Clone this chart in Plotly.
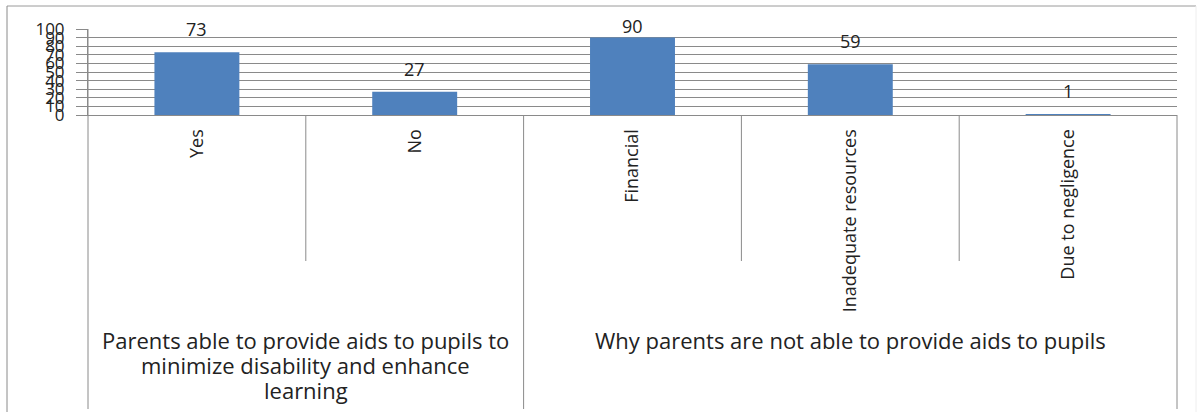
import plotly.graph_objects as go

# ---- data ----
categories = ["Yes", "No", "Financial", "Inadequate resources", "Due to negligence"]
values = [73, 27, 90, 59, 1]
group_labels = [
    "Parents able to provide aids to pupils to<br>minimize disability and enhance<br>learning",
    "Why parents are not able to provide aids to pupils",
]
group_sizes = [2, 3]
y_ticks = list(range(0, 101, 10))

# ---- style / layout constants ----
W, H = 1200, 412
ML, MR, MT, MB = 88, 23, 29, 297
PLOT_H = H - MT - MB
PX_PER_UNIT = PLOT_H / 100.0
FONT = "Open Sans"
GRID = "#8a8a8a"
LINE = "#8a8a8a"
TXT = "#222222"
BAR = "#4F81BD"


def py(px):
    """pixel row -> paper y"""
    return (H - MB - px) / PLOT_H


def px_x(px):
    return (px - ML) / (W - ML - MR)


fig = go.Figure()
fig.add_trace(go.Bar(
    x=categories, y=values, marker=dict(color=BAR, line=dict(width=0)),
    width=0.39, hoverinfo="x+y",
))

annotations = []
# data labels
for c, v in zip(categories, values):
    shift = min(23, (100 - v) * PX_PER_UNIT + 3)
    annotations.append(dict(
        x=c, y=v, xref="x", yref="y", text=str(v), showarrow=False,
        yshift=shift, font=dict(family=FONT, size=18, color=TXT),
    ))

shapes = []
# separators
n = len(categories)
boundaries = []
acc = 0
for s in group_sizes:
    acc += s
    boundaries.append(acc)
group_ends = set(boundaries)
for i in range(1, n):
    long_line = i in group_ends
    shapes.append(dict(
        type="line", xref="x", yref="paper", x0=i - 0.5, x1=i - 0.5,
        y0=0, y1=py(409) if long_line else py(261),
        line=dict(color=LINE, width=1),
    ))
for xd in (0, 1):
    shapes.append(dict(
        type="line", xref="x domain", yref="paper", x0=xd, x1=xd,
        y0=1 if xd == 0 else 0, y1=py(409), line=dict(color=LINE, width=1),
    ))
# outer chart border (top and left edges visible)
shapes.append(dict(
    type="line", xref="paper", yref="paper",
    x0=px_x(7), x1=px_x(1196), y0=py(6), y1=py(6),
    line=dict(color="#9a9a9a", width=1), layer="below",
))
shapes.append(dict(
    type="line", xref="paper", yref="paper",
    x0=px_x(7), x1=px_x(7), y0=py(6), y1=py(412),
    line=dict(color="#8a8a8a", width=1), layer="below",
))
shapes.append(dict(
    type="line", xref="paper", yref="paper",
    x0=px_x(1196), x1=px_x(1196), y0=py(6), y1=py(412),
    line=dict(color="#eeeeee", width=1), layer="below",
))

# group labels (one annotation per line for tight line spacing)
start = 0
for lbl, s in zip(group_labels, group_sizes):
    center = start + (s - 1) / 2.0
    for k, line in enumerate(lbl.split("<br>")):
        annotations.append(dict(
            x=center, y=py(340 + 25 * k), xref="x", yref="paper", text=line,
            showarrow=False, yanchor="middle", xanchor="center",
            font=dict(family=FONT, size=22, color=TXT),
        ))
    start += s

fig.update_layout(
    width=W, height=H,
    margin=dict(l=ML, r=MR, t=MT, b=MB, pad=0),
    paper_bgcolor="white", plot_bgcolor="white",
    showlegend=False,
    annotations=annotations, shapes=shapes,
    font=dict(family=FONT, color=TXT),
)
fig.update_xaxes(
    type="category", range=[-0.5, n - 0.5],
    showline=True, linecolor=LINE, linewidth=1,
    showgrid=False, ticks="", tickangle=-90, ticklabelstandoff=6,
    tickfont=dict(family=FONT, size=18, color=TXT),
)
fig.update_yaxes(
    range=[0, 100], tickvals=y_ticks, ticktext=[str(t) for t in y_ticks],
    showgrid=True, gridcolor=GRID, gridwidth=1,
    showline=True, linecolor=LINE, linewidth=1,
    ticks="outside", ticklen=11, tickcolor=GRID, ticklabelstandoff=8,
    tickfont=dict(family=FONT, size=17, color=TXT),
    zeroline=False,
)

fig.write_html("out.html", config={"displayModeBar": False},
               post_script="document.body.style.margin='0';")
